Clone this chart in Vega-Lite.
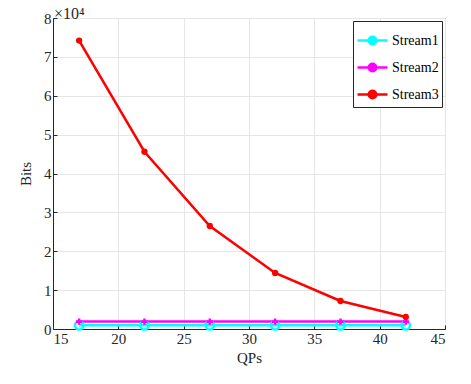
{
  "$schema": "https://vega.github.io/schema/vega-lite/v6.json",
  "width": 392,
  "height": 311,
  "autosize": "none",
  "padding": {"left": 53, "top": 18, "right": 26, "bottom": 55},
  "background": "white",
  "title": {"text": "×10⁴", "anchor": "start", "frame": "group", "font": "Liberation Serif", "fontSize": 16, "fontWeight": "normal", "offset": 0, "dy": 11, "color": "#262626", "dx": 1},
  "config": {
    "font": "Liberation Serif",
    "view": {"stroke": "#262626", "strokeWidth": 1},
    "axis": {"labelFont": "Liberation Serif", "titleFont": "Liberation Serif", "labelFontSize": 15, "titleFontSize": 15, "titleFontWeight": "normal", "labelColor": "#262626", "titleColor": "#262626", "domainColor": "#262626", "tickColor": "#262626", "gridColor": "#e6e6e6", "tickSize": -4, "labelPadding": 6},
    "legend": {"labelFont": "Liberation Serif", "labelFontSize": 14}
  },
  "data": {
    "values": [
      {"qp": 17, "bits": 950, "stream": "Stream1"},
      {"qp": 22, "bits": 950, "stream": "Stream1"},
      {"qp": 27, "bits": 950, "stream": "Stream1"},
      {"qp": 32, "bits": 950, "stream": "Stream1"},
      {"qp": 37, "bits": 950, "stream": "Stream1"},
      {"qp": 42, "bits": 950, "stream": "Stream1"},
      {"qp": 17, "bits": 1900, "stream": "Stream2"},
      {"qp": 22, "bits": 1900, "stream": "Stream2"},
      {"qp": 27, "bits": 1900, "stream": "Stream2"},
      {"qp": 32, "bits": 1900, "stream": "Stream2"},
      {"qp": 37, "bits": 1900, "stream": "Stream2"},
      {"qp": 42, "bits": 1900, "stream": "Stream2"},
      {"qp": 17, "bits": 74200, "stream": "Stream3"},
      {"qp": 22, "bits": 45600, "stream": "Stream3"},
      {"qp": 27, "bits": 26500, "stream": "Stream3"},
      {"qp": 32, "bits": 14400, "stream": "Stream3"},
      {"qp": 37, "bits": 7200, "stream": "Stream3"},
      {"qp": 42, "bits": 3100, "stream": "Stream3"}
    ]
  },
  "encoding": {
    "x": {"field": "qp", "type": "quantitative", "title": "QPs", "scale": {"domain": [15, 45], "nice": false}, "axis": {"values": [15, 20, 25, 30, 35, 40, 45], "titlePadding": 4}},
    "y": {"field": "bits", "type": "quantitative", "title": "Bits", "scale": {"domain": [0, 80000], "nice": false}, "axis": {"values": [0, 10000, 20000, 30000, 40000, 50000, 60000, 70000, 80000], "labelExpr": "datum.value / 10000", "titlePadding": 10}},
    "color": {"field": "stream", "type": "nominal", "scale": {"domain": ["Stream1", "Stream2", "Stream3"], "range": ["#00ffff", "#ff00ff", "#ff0000"]},
      "legend": {"title": null, "orient": "top-right", "offset": 3, "labelFont": "Liberation Serif", "labelColor": "#000000", "fillColor": "white", "strokeColor": "#262626", "padding": 3, "symbolType": "M-1,0H1M0.25,0A0.25,0.25 0 1 1 -0.25,0A0.25,0.25 0 1 1 0.25,0", "symbolSize": 900, "symbolStrokeWidth": 2.5, "rowPadding": 1, "labelOffset": 3}}
  },
  "layer": [
    {"mark": {"type": "line", "strokeWidth": 2.5}},
    {"transform": [{"filter": "datum.stream == 'Stream1'"}], "mark": {"type": "point", "shape": "circle", "filled": false, "size": 70, "strokeWidth": 2.5, "opacity": 1}},
    {"transform": [{"filter": "datum.stream == 'Stream2'"}], "mark": {"type": "point", "shape": "cross", "filled": true, "size": 40, "opacity": 1}},
    {"transform": [{"filter": "datum.stream == 'Stream3'"}], "mark": {"type": "point", "shape": "circle", "filled": true, "size": 40, "opacity": 1}}
  ]
}
